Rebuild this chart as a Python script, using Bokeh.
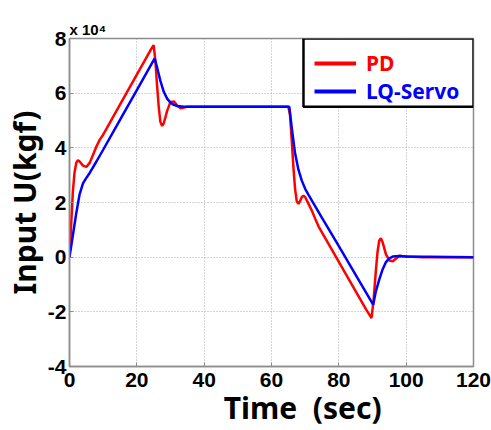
from bokeh.plotting import figure
from bokeh.models import (Legend, LegendItem, BoxAnnotation, FixedTicker,
                          Range1d, PrintfTickFormatter, Title)
from bokeh.embed import file_html
from bokeh.resources import INLINE

# ---- data (values in units of 1e4 kgf) ----
pd_time = [0, 0.5, 1, 1.5, 2, 2.5, 3, 4, 5, 6, 7, 8, 9, 10, 12, 15, 18, 21, 24, 25,
           25.5, 26, 26.5, 27, 27.5, 28, 29, 30, 31, 32, 33, 35, 40, 50, 60, 65,
           65.5, 66, 66.5, 67, 67.5, 68, 68.5, 69, 69.5, 70, 71, 72, 73, 74, 76,
           80, 84, 88, 89.7, 90.3, 91, 91.5, 92, 92.5, 93, 94, 95, 96, 97, 98,
           100, 105, 120]
pd_input = [0, 1.2, 2.4, 3.1, 3.45, 3.55, 3.5, 3.35, 3.3, 3.45, 3.75, 4.05, 4.3,
            4.48, 4.92, 5.58, 6.24, 6.9, 7.56, 7.76,
            7.2, 6.3, 5.5, 4.95, 4.8, 4.9, 5.35, 5.68, 5.7, 5.55, 5.45, 5.5, 5.5,
            5.5, 5.5, 5.5,
            5.2, 4.3, 3.3, 2.5, 2.05, 1.95, 2.05, 2.2, 2.25, 2.2, 1.95, 1.7, 1.4,
            1.12, 0.69, -0.17, -1.03, -1.89, -2.23, -1.6, -0.5, 0.2, 0.6, 0.69,
            0.55, 0.1, -0.12, -0.15, -0.05, 0.05, 0.02, 0, 0]

lq_time = [0, 1, 2, 3, 4, 5, 6, 8, 10, 15, 20, 25.3, 26, 27, 28, 29, 30, 31, 32,
           34, 40, 60, 65.3, 66, 67, 68, 69, 70, 71, 75, 80, 85, 90.2, 91, 92, 93,
           94, 95, 96, 98, 100, 120]
lq_input = [0, 0.8, 1.6, 2.3, 2.7, 2.9, 3.08, 3.5, 3.93, 5.02, 6.11, 7.27, 6.95,
            6.45, 6.05, 5.8, 5.65, 5.57, 5.53, 5.5, 5.5, 5.5, 5.5, 4.75, 3.8, 3.2,
            2.8, 2.5, 2.28, 1.44, 0.4, -0.65, -1.74, -1.25, -0.82, -0.45, -0.18,
            -0.04, 0.02, 0.04, 0.02, 0]

x_ticks = [0, 20, 40, 60, 80, 100, 120]
y_ticks = [-4, -2, 0, 2, 4, 6, 8]
x_range = (0, 120)
y_range = (-4, 8)

series_names = ["PD", "LQ-Servo"]
series_colors = ["#ff0000", "#0000ff"]
series_data = [(pd_time, pd_input), (lq_time, lq_input)]

TICK_FONT = "Liberation Sans"
LABEL_FONT = "Noto Sans"

p = figure(width=491, height=430, output_backend="svg", toolbar_location=None,
           x_range=Range1d(*x_range), y_range=Range1d(*y_range),
           min_border_left=68, min_border_right=18, min_border_top=38,
           min_border_bottom=63)
p.background_fill_color = "white"
p.border_fill_color = "white"
p.outline_line_color = "#8c8c8c"
p.outline_line_width = 1.5

# exponent marker as title
p.title = Title(text="x 10\u2074", align="left", offset=0, standoff=2,
                text_font=TICK_FONT, text_font_style="bold",
                text_font_size="15px", text_color="black")

for ax, ticks in ((p.xaxis, x_ticks), (p.yaxis, y_ticks)):
    ax.ticker = FixedTicker(ticks=ticks)
    ax.formatter = PrintfTickFormatter(format="%d")
    ax.axis_line_color = "#8c8c8c"
    ax.axis_line_width = 1.5
    ax.major_tick_out = 0
    ax.major_tick_in = 4
    ax.major_tick_line_color = "#8c8c8c"
    ax.minor_tick_line_color = None
    ax.major_label_text_font = TICK_FONT
    ax.major_label_text_font_style = "bold"
    ax.major_label_text_font_size = "21px"
    ax.major_label_text_color = "black"
    ax.axis_label_text_font = LABEL_FONT
    ax.axis_label_text_font_style = "bold"
    ax.axis_label_text_font_size = "30px"
    ax.axis_label_text_color = "black"
p.xaxis.major_label_standoff = 6
p.yaxis.major_label_standoff = 3
p.xaxis.axis_label = "\u00a0" * 8 + "Time\u00a0 (sec)"
p.yaxis.axis_label = "Input U(kgf)"
p.xaxis.axis_label_standoff = -3
p.yaxis.axis_label_standoff = 0

p.grid.grid_line_color = "#a8a8a8"
p.grid.grid_line_dash = "1 2"
p.grid.grid_line_width = 1

for (t, v), col in zip(series_data, series_colors):
    p.line(t, v, line_color=col, line_width=2.5)

# legend frame
box = BoxAnnotation(left=69.5, right=x_range[1], top=y_range[1], bottom=5.5,
                    fill_color="white", fill_alpha=1.0, line_alpha=1.0,
                    line_color="black", line_width=2.5, level="annotation")
p.add_layout(box)

# legend: invisible thicker copies, one legend per series so texts take the series colour
for i, (name, col, (t, v)) in enumerate(zip(series_names, series_colors, series_data)):
    r = p.line(t, v, line_color=col, line_width=4, visible=False)
    leg = Legend(items=[LegendItem(label=name, renderers=[r])],
                 location=(245, 289 - 28 * i), click_policy="none",
                 background_fill_alpha=0, border_line_color=None,
                 padding=0, margin=0, spacing=0,
                 glyph_width=42, glyph_height=28, label_height=28,
                 label_standoff=10,
                 label_text_font=LABEL_FONT, label_text_font_style="bold",
                 label_text_font_size="21px", label_text_color=col)
    p.add_layout(leg)

open("out.html", "w").write(file_html(p, INLINE))
